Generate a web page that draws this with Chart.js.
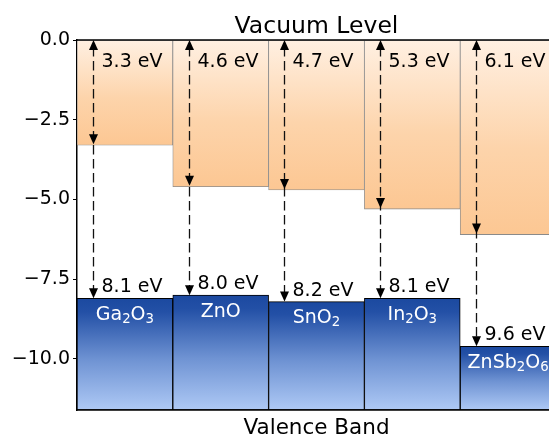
<!DOCTYPE html>
<html><head><meta charset="utf-8">
<script src="https://cdn.jsdelivr.net/npm/chart.js@4.4.0/dist/chart.umd.min.js"></script>
<style>
html,body{margin:0;padding:0;overflow:hidden;background:#fff;width:549px;height:437px}
#wrap{position:relative;width:560px;height:437px}
</style>
</head><body><div id="wrap"><canvas id="c" width="560" height="437"></canvas></div>
<script>
const materials = ['Ga2O3', 'ZnO', 'SnO2', 'In2O3', 'ZnSb2O6'];
const electronAffinity = [3.3, 4.6, 4.7, 5.3, 6.1];
const ionizationPotential = [8.1, 8.0, 8.2, 8.1, 9.6];
const yTicks = [0, -2.5, -5, -7.5, -10];
const yMin = -11.6, yMax = 0;
const topTitle = 'Vacuum Level';
const bottomTitle = 'Valence Band';

const FONT = '"DejaVu Sans", sans-serif';

function grad(ctx, stops, fallback) {
  const chart = ctx.chart;
  const ys = chart.scales && chart.scales.y;
  if (!chart.chartArea || !ys || !ctx.raw) return fallback;
  const a = ys.getPixelForValue(Math.max(ctx.raw[0], ctx.raw[1]));
  const b = ys.getPixelForValue(Math.min(ctx.raw[0], ctx.raw[1]));
  const g = chart.ctx.createLinearGradient(0, a, 0, b);
  stops.forEach(s => g.addColorStop(s[0], s[1]));
  return g;
}

const orangeStops = [[0, '#fff0e2'], [0.55, '#fdd4ab'], [1, '#fcc793']];
const blueStops = [[0, '#1b49a0'], [0.12, '#2350a6'], [0.55, '#6f93d3'], [1, '#aec9f5']];

function drawArrowHead(c, x, y, dir) {
  const L = 10, W = 4.5;
  c.beginPath();
  c.moveTo(x, y);
  c.lineTo(x - W, y - dir * L);
  c.lineTo(x + W, y - dir * L);
  c.closePath();
  c.fill();
}

function drawFormula(c, text, cx, baseline, size) {
  const parts = text.match(/[A-Za-z]+|\d+/g);
  const subSize = size * 0.7;
  let w = 0;
  parts.forEach(p => {
    c.font = (/\d/.test(p) ? subSize : size) + 'px ' + FONT;
    w += c.measureText(p).width;
  });
  let x = cx - w / 2;
  c.textAlign = 'left';
  c.textBaseline = 'alphabetic';
  parts.forEach(p => {
    const sub = /\d/.test(p);
    c.font = (sub ? subSize : size) + 'px ' + FONT;
    c.fillText(p, x, baseline + (sub ? 3 : 0));
    x += c.measureText(p).width;
  });
}

const overlay = {
  id: 'overlay',
  afterDatasetsDraw(chart) {
    const c = chart.ctx, xs = chart.scales.x, ys = chart.scales.y, ca = chart.chartArea;
    const bw = xs.getPixelForValue(1) - xs.getPixelForValue(0);
    c.save();
    // spines
    c.strokeStyle = '#000';
    c.lineWidth = 1.5;
    c.beginPath();
    c.moveTo(ca.left, ca.top); c.lineTo(ca.right, ca.top);
    c.moveTo(ca.left, ca.bottom); c.lineTo(ca.right, ca.bottom);
    c.stroke();
    // arrows and labels
    materials.forEach((m, i) => {
      const x = Math.round(xs.getPixelForValue(i) - 0.335 * bw) + 0.5;
      const y0 = ys.getPixelForValue(0);
      const yc = ys.getPixelForValue(-electronAffinity[i]);
      const yv = ys.getPixelForValue(-ionizationPotential[i]);
      c.strokeStyle = '#111';
      c.fillStyle = '#000';
      c.lineWidth = 1.3;
      c.setLineDash([9.5, 4.5]);
      c.beginPath();
      c.moveTo(x, y0 + 7); c.lineTo(x, yv - 6);
      c.stroke();
      c.setLineDash([]);
      drawArrowHead(c, x, y0, -1);
      drawArrowHead(c, x, yc - 1, 1);
      drawArrowHead(c, x, yv, 1);
      c.font = '19px ' + FONT;
      c.textAlign = 'left';
      c.textBaseline = 'alphabetic';
      c.fillText(electronAffinity[i].toFixed(1) + ' eV', x + 8, y0 + 27);
      c.fillText(ionizationPotential[i].toFixed(1) + ' eV', x + 8, yv - 6);
      c.fillStyle = '#fff';
      drawFormula(c, m, xs.getPixelForValue(i), yv + 21.5, 19);
    });
    // titles
    c.fillStyle = '#000';
    c.textAlign = 'center';
    c.textBaseline = 'alphabetic';
    const cx = (ca.left + ca.right) / 2;
    c.font = '23.5px ' + FONT;
    c.fillText(topTitle, cx, 32.5);
    c.font = '21.5px ' + FONT;
    c.fillText(bottomTitle, cx, 433.5);
    c.restore();
  }
};

new Chart(document.getElementById('c'), {
  type: 'bar',
  data: {
    labels: materials,
    datasets: [
      {
        label: 'Conduction band',
        data: electronAffinity.map(v => [-v, yMax]),
        backgroundColor: ctx => grad(ctx, orangeStops, '#fdd6b0'),
        borderColor: '#8a8a8a',
        borderWidth: 0.8,
        borderSkipped: false,
        barPercentage: 1,
        categoryPercentage: 1,
        grouped: false
      },
      {
        label: 'Valence band',
        data: ionizationPotential.map(v => [-v, yMin]),
        backgroundColor: ctx => grad(ctx, blueStops, '#4a72c0'),
        borderColor: '#000',
        borderWidth: 1,
        borderSkipped: false,
        barPercentage: 1,
        categoryPercentage: 1,
        grouped: false
      }
    ]
  },
  options: {
    responsive: false,
    devicePixelRatio: 1,
    animation: false,
    layout: { padding: { left: 0, top: 40, right: 4, bottom: 27 } },
    plugins: { legend: { display: false }, tooltip: { enabled: false }, title: { display: false } },
    scales: {
      x: { type: 'category', display: false, offset: true },
      y: {
        min: yMin, max: yMax,
        afterFit(s) { s.width = 77; },
        afterBuildTicks(s) { s.ticks = yTicks.map(v => ({ value: v })); },
        border: { display: true, color: '#000', width: 1.5 },
        grid: { display: true, drawOnChartArea: false, drawTicks: true, tickLength: 4, color: '#000', tickColor: '#000' },
        ticks: {
          padding: 3,
          color: '#000',
          font: { family: 'DejaVu Sans', size: 19 },
          callback: v => (v < 0 ? '\u2212' : '') + Math.abs(v).toFixed(1)
        }
      }
    }
  },
  plugins: [overlay]
});
</script>
</body></html>
